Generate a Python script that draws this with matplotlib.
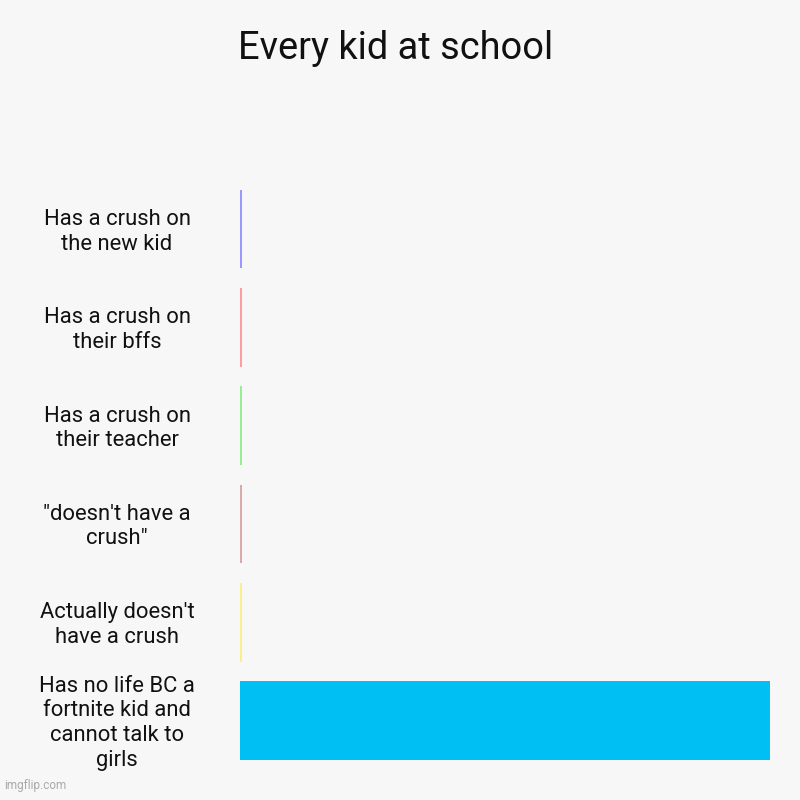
import matplotlib.pyplot as plt

# Data
categories = [
    "Has a crush on\nthe new kid",
    "Has a crush on\ntheir bffs",
    "Has a crush on\ntheir teacher",
    "\"doesn't have a\ncrush\"",
    "Actually doesn't\nhave a crush",
    "Has no life BC a\nfortnite kid and\ncannot talk to\ngirls",
]
values = [0.3, 0.3, 0.3, 0.3, 0.3, 100]
colors = ["#9999ff", "#ff9d9d", "#96ee96", "#d9aaaa", "#f7f08c", "#00bff3"]

bg = "#f7f7f7"
plt.rcParams['font.family'] = ['Roboto', 'DejaVu Sans']

fig = plt.figure(figsize=(8, 8), dpi=100, facecolor=bg)
ax = fig.add_axes([0.3, 0.038, 0.6625, 0.737], facecolor=bg)

pos = list(range(len(categories)))
ax.barh(pos, values, height=0.8, color=colors)
ax.set_ylim(len(categories) - 0.5, -0.5)
ax.set_xlim(0, 100)

# category labels, centred in the left margin
for p, label in zip(pos, categories):
    ax.annotate(label, xy=(0, p), xycoords=('axes fraction', 'data'),
                xytext=(117, -2), textcoords=('figure pixels', 'offset points'),
                ha='center', va='center', fontsize=15.8, color='#111111',
                linespacing=1.22)
ax.set_yticks([])
ax.set_xticks([])
for s in ax.spines.values():
    s.set_visible(False)

fig.text(0.494, 0.939, "Every kid at school", ha='center', va='center',
         fontsize=27.4, color='#111111')
fig.text(0.005, 0.01, "imgflip.com", ha='left', va='bottom', fontsize=8.5,
         color='#aaaaaa')

fig.savefig('out.png', dpi=100, facecolor=bg)
